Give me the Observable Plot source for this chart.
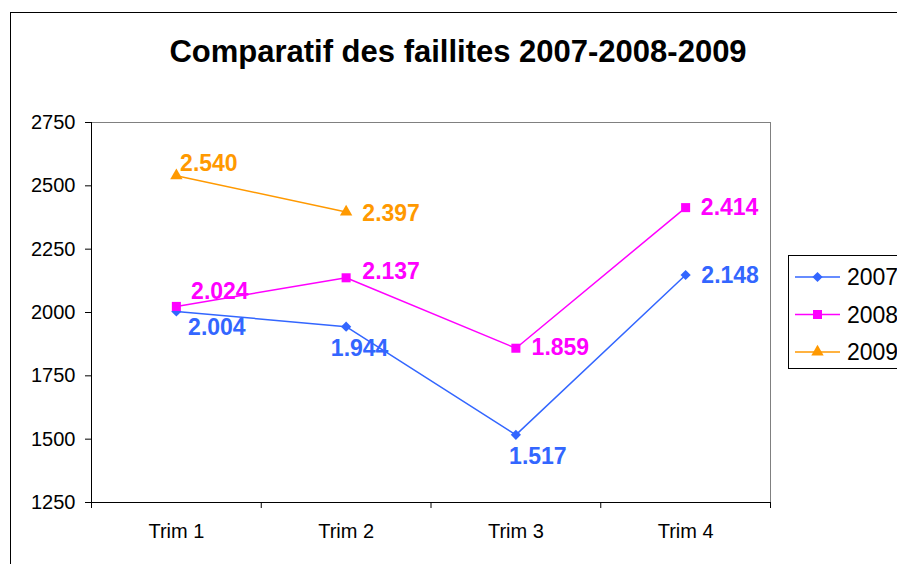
<!DOCTYPE html>
<html>
<head>
<meta charset="utf-8">
<script src="https://cdn.jsdelivr.net/npm/d3@7"></script>
<script src="https://cdn.jsdelivr.net/npm/@observablehq/plot@0.6"></script>
<style>
  html, body { margin: 0; padding: 0; background: #fff; overflow: hidden; }
  #wrap { position: relative; width: 897px; height: 564px; overflow: hidden; font-family: "Liberation Sans", Arial, sans-serif; }
  #outer { position: absolute; left: 10px; top: 12px; width: 1000px; height: 700px; border: 1px solid #000; box-sizing: border-box; }
  #title { position: absolute; left: 0; top: 36px; width: 916px; text-align: center; font-weight: bold; font-size: 31px; line-height: 31px; color: #000; white-space: nowrap; }
  #chart { position: absolute; left: 0; top: 0; }
  #legend { position: absolute; left: 788px; top: 255px; }
</style>
</head>
<body>
<div id="wrap">
  <div id="outer"></div>
  <div id="chart"></div>
  <div id="title">Comparatif des faillites 2007-2008-2009</div>
  <div id="legend"></div>
</div>
<script>
const categories = ["Trim 1", "Trim 2", "Trim 3", "Trim 4"];
const seriesNames = ["2007", "2008", "2009"];
const values2007 = [2004, 1944, 1517, 2148];
const values2008 = [2024, 2137, 1859, 2414];
const values2009 = [2540, 2397, null, null];
const yTicks = [1250, 1500, 1750, 2000, 2250, 2500, 2750];

// styles (not data)
const colors = ["#3366FF", "#FF00FF", "#FF9900"];
const symbols = ["diamond2", "square", "triangle"];
const symbolR = [4.6, 5.1, 4.6];
// label offsets (relative to each point)
const labelDx = [[40.5, 13.5, 22, 44.5], [43.5, 45, 44.5, 44], [32.5, 45, 0, 0]];
const labelDy = [[16.5, 22, 22, 0.5], [-15, -6, -1, 0], [-12, 2, 0, 0]];

const allValues = [values2007, values2008, values2009];
const rows = [];
allValues.forEach((vals, s) => {
  vals.forEach((v, i) => {
    rows.push({series: seriesNames[s], s, i, pos: i + 1, cat: categories[i], value: v});
  });
});

const fmt = d3.formatLocale({decimal: ",", thousands: ".", grouping: [3], currency: ["", " €"]}).format(",d");
const font = "'Liberation Sans', Arial, sans-serif";

const bounds = categories.map((_, i) => i + 0.5).concat([categories.length + 0.5]);
const centers = categories.map((_, i) => i + 1);

const marks = [
  Plot.frame({stroke: "#808080", strokeWidth: 1}),
  Plot.ruleY([yTicks[0]], {stroke: "#000"}),
  Plot.ruleX([bounds[0]], {stroke: "#000"}),
  Plot.axisY({ticks: yTicks, tickSize: 6, tickPadding: 10, fontSize: 20, tickFormat: d => String(d), label: null}),
  Plot.axisX({ticks: bounds, tickSize: 6, tickFormat: () => "", label: null}),
  Plot.axisX({ticks: centers, tickSize: 0, tickPadding: 21, fontSize: 20, tickFormat: d => categories[d - 1], label: null})
];

seriesNames.forEach((name, s) => {
  const data = rows.filter(r => r.s === s);
  marks.push(Plot.line(data, {x: "pos", y: "value", stroke: colors[s], strokeWidth: 1.5}));
  const defined = data.filter(r => r.value != null);
  marks.push(Plot.dot(defined, {x: "pos", y: "value", symbol: symbols[s], r: symbolR[s], fill: colors[s], stroke: "none"}));
  defined.forEach(r => {
    marks.push(Plot.text([r], {
      x: "pos", y: "value", text: d => fmt(d.value),
      dx: labelDx[s][r.i], dy: labelDy[s][r.i],
      fill: colors[s], fontSize: 23, fontWeight: "bold", textAnchor: "middle"
    }));
  });
});

const chart = Plot.plot({
  width: 897,
  height: 564,
  marginLeft: 91,
  marginRight: 127,
  marginTop: 122,
  marginBottom: 62,
  style: {fontFamily: font, color: "#000", background: "transparent", overflow: "visible"},
  x: {type: "linear", domain: [bounds[0], bounds[bounds.length - 1]]},
  y: {domain: [yTicks[0], yTicks[yTicks.length - 1]]},
  marks
});
document.getElementById("chart").appendChild(chart);

// legend
const lg = d3.select("#legend").append("svg")
  .attr("width", 120).attr("height", 116)
  .style("overflow", "visible")
  .style("font-family", font);
lg.append("rect").attr("x", 0.5).attr("y", 0.5).attr("width", 130).attr("height", 113)
  .attr("fill", "#fff").attr("stroke", "#000");
const symMap = {diamond2: d3.symbolDiamond2, square: d3.symbolSquare, triangle: d3.symbolTriangle};
seriesNames.forEach((name, s) => {
  const yy = 22 + s * 37.5;
  lg.append("line").attr("x1", 7).attr("x2", 52).attr("y1", yy).attr("y2", yy)
    .attr("stroke", colors[s]).attr("stroke-width", 1.5);
  lg.append("path").attr("d", d3.symbol(symMap[symbols[s]], Math.PI * symbolR[s] * symbolR[s])())
    .attr("transform", `translate(29.5,${yy})`).attr("fill", colors[s]);
  lg.append("text").attr("x", 59).attr("y", yy).attr("dy", "0.35em").attr("font-size", 23).attr("fill", "#000").text(name);
});
</script>
</body>
</html>
